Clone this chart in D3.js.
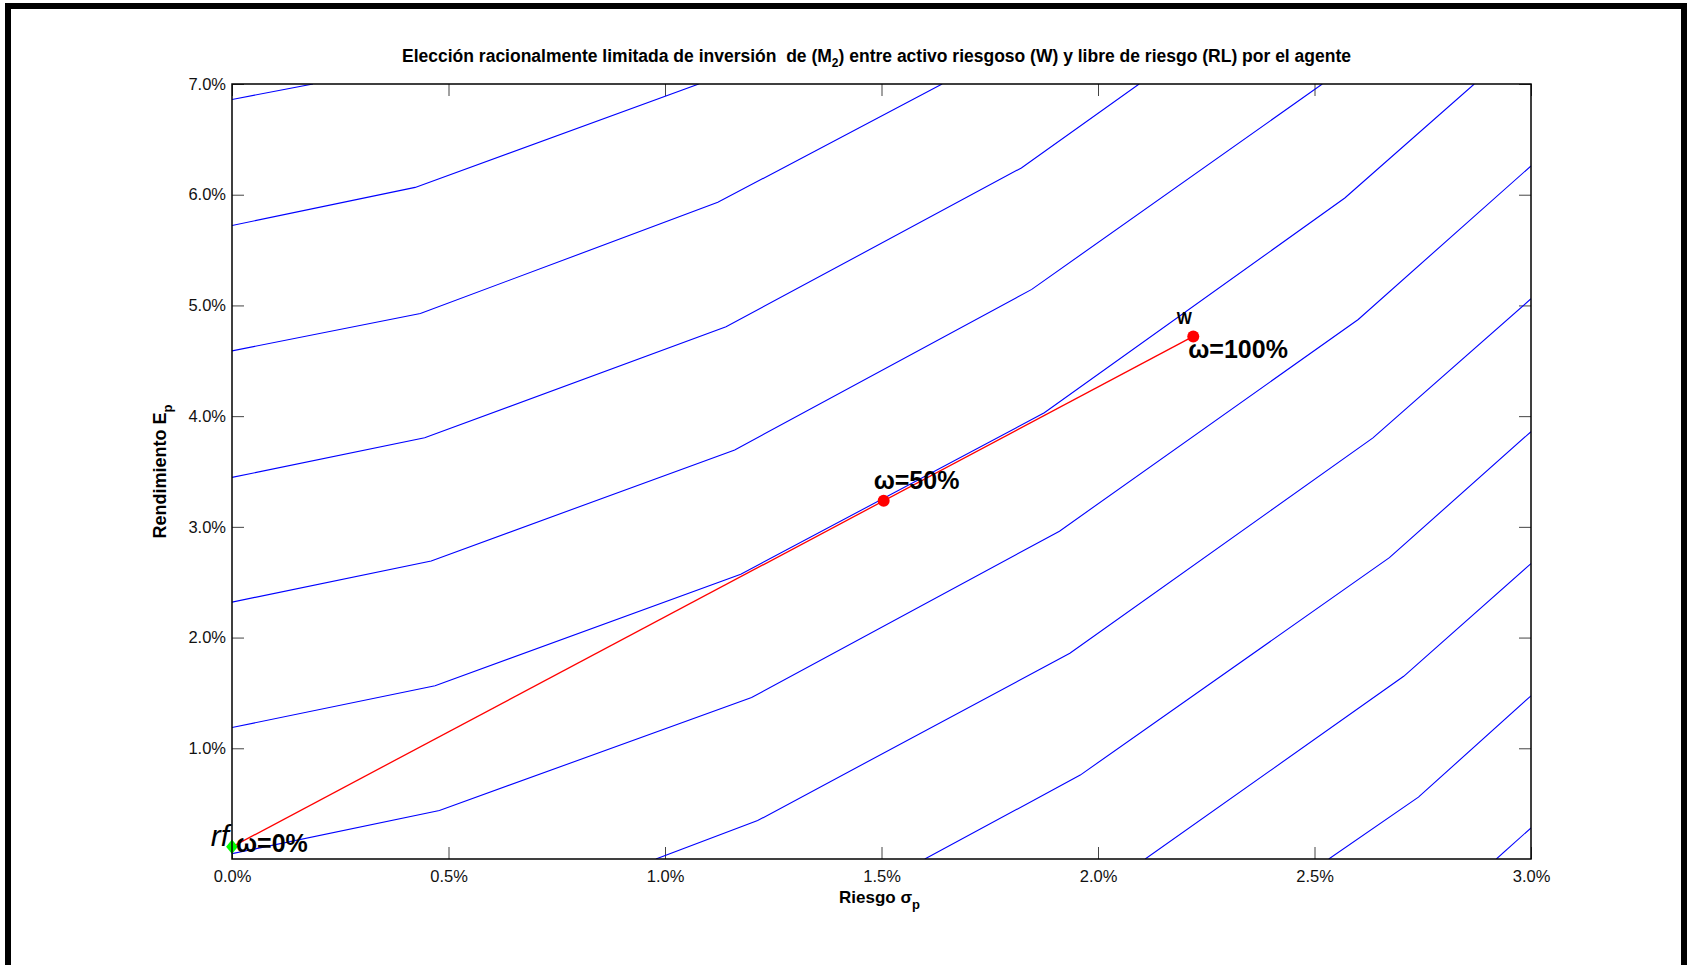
<!DOCTYPE html>
<html>
<head>
<meta charset="utf-8">
<script src="https://cdn.jsdelivr.net/npm/d3@7"></script>
<style>
  html, body { margin: 0; padding: 0; background: #fff; }
  svg { display: block; }
  text { font-family: "Liberation Sans", Arial, Helvetica, sans-serif; }
</style>
</head>
<body>
<script>
// Risk (sigma_p, %) and return (E_p, %) axis ticks
const xTicks = [0.0, 0.5, 1.0, 1.5, 2.0, 2.5, 3.0];
const yTicks = [1.0, 2.0, 3.0, 4.0, 5.0, 6.0, 7.0];

// Indifference curves (contours of the agent's utility), [sigma %, E %]
const curveA = [[0, 6.86], [0.187, 7.0]];
const curveB = [[0, 5.722], [0.423, 6.066], [1.078, 7.0]];
const curveC = [[0, 4.589], [0.435, 4.927], [1.122, 5.931], [1.64, 7.0]];
const curveD = [[0, 3.447], [0.445, 3.804], [1.141, 4.807], [1.823, 6.242], [2.095, 7.0]];
const curveE = [[0, 2.320], [0.46, 2.692], [1.161, 3.695], [1.847, 5.145], [2.518, 7.0]];
const curveF = [[0, 1.187], [0.469, 1.565], [1.175, 2.572], [1.876, 4.03], [2.570, 5.970], [2.869, 7.0]];
const curveG = [[0, 0.048], [0.479, 0.438], [1.2, 1.459], [1.911, 2.961], [2.601, 4.873], [3.0, 6.26]];
const curveH = [[0.979, 0], [1.214, 0.347], [1.935, 1.858], [2.635, 3.804], [3.0, 5.06]];
const curveI = [[1.60, 0], [1.959, 0.758], [2.673, 2.722], [3.0, 3.86]];
const curveJ = [[2.109, 0], [2.706, 1.650], [3.0, 2.668]];
const curveK = [[2.533, 0], [2.74, 0.559], [3.0, 1.474]];
const curveL = [[2.92, 0], [3.0, 0.281]];
const curves = [curveA, curveB, curveC, curveD, curveE, curveF, curveG, curveH, curveI, curveJ, curveK, curveL];

// Capital allocation between the risk-free asset (RL) and the risky asset (W)
const riskFree = [0, 0.11];
const riskyAsset = [2.22, 4.72];
const halfPortfolio = [1.505, 3.235];

const W = 1690, H = 965;
const margin = { left: 232, right: W - 1531, top: 84, bottom: H - 859 };
const pw = W - margin.left - margin.right;
const ph = H - margin.top - margin.bottom;

const svg = d3.select("body").append("svg").attr("width", W).attr("height", H);

// Figure frame
svg.append("rect")
  .attr("x", 8).attr("y", 6).attr("width", 1676).attr("height", 980)
  .attr("fill", "none").attr("stroke", "#000").attr("stroke-width", 6);

const x = d3.scaleLinear().domain([0, 3]).range([0, pw]);
const y = d3.scaleLinear().domain([0, 7]).range([ph, 0]);
const fmt = d => d.toFixed(1) + "%";

const g = svg.append("g").attr("transform", `translate(${margin.left},${margin.top})`);

g.append("clipPath").attr("id", "plotClip")
  .append("rect").attr("width", pw).attr("height", ph);

// Axes with inward ticks on all four sides
const tickLen = -12;
const styleAxis = sel => {
  sel.select(".domain").remove();
  sel.selectAll(".tick line").attr("stroke", "#444").attr("stroke-width", 1);
  sel.selectAll(".tick text").attr("fill", "#111").attr("font-size", "16.5px")
    .attr("font-family", "'Liberation Sans', Arial, sans-serif");
};
g.append("g").attr("transform", `translate(0,${ph})`)
  .call(d3.axisBottom(x).tickValues(xTicks).tickFormat(fmt).tickSize(tickLen).tickPadding(11))
  .call(styleAxis);
g.append("g")
  .call(d3.axisTop(x).tickValues(xTicks).tickFormat("").tickSize(tickLen))
  .call(styleAxis);
g.append("g")
  .call(d3.axisLeft(y).tickValues(yTicks).tickFormat(fmt).tickSize(tickLen).tickPadding(6))
  .call(styleAxis);
g.append("g").attr("transform", `translate(${pw},0)`)
  .call(d3.axisRight(y).tickValues(yTicks).tickFormat("").tickSize(tickLen))
  .call(styleAxis);

const plot = g.append("g").attr("clip-path", "url(#plotClip)");

const line = d3.line().x(d => x(d[0])).y(d => y(d[1]));

plot.selectAll("path.curve").data(curves).join("path")
  .attr("class", "curve")
  .attr("d", line)
  .attr("fill", "none")
  .attr("stroke", "#0000ff")
  .attr("stroke-width", 1.1);

// Capital allocation line from RL to W
g.append("path")
  .attr("d", line([riskFree, riskyAsset]))
  .attr("fill", "none").attr("stroke", "#ff0000").attr("stroke-width", 1.3);

g.selectAll("circle.port").data([halfPortfolio, riskyAsset]).join("circle")
  .attr("class", "port")
  .attr("cx", d => x(d[0])).attr("cy", d => y(d[1])).attr("r", 6)
  .attr("fill", "#ff0000");

// Risk-free asset marker (diamond)
g.append("path")
  .attr("d", d3.symbol(d3.symbolDiamond2, 110)())
  .attr("transform", `translate(${x(riskFree[0])},${y(riskFree[1])}) scale(0.9,1.1)`)
  .attr("fill", "#00ff00");

// Point labels
g.append("text")
  .attr("x", x(riskFree[0]) - 3).attr("y", y(riskFree[1]) - 1)
  .attr("text-anchor", "end")
  .attr("font-family", "'Liberation Serif', 'Times New Roman', serif")
  .attr("font-style", "italic").attr("font-size", "30px").attr("fill", "#000")
  .text("rf");

const wlabel = (pt, txt, dx, dy) => g.append("text")
  .attr("x", x(pt[0]) + dx).attr("y", y(pt[1]) + dy)
  .attr("font-weight", "bold").attr("font-size", "25px").attr("fill", "#000")
  .text(txt);
wlabel(riskFree, "ω=0%", 4, 5);
wlabel(halfPortfolio, "ω=50%", -10, -12);
wlabel(riskyAsset, "ω=100%", -5, 22);

g.append("text")
  .attr("x", x(riskyAsset[0]) - 9).attr("y", y(riskyAsset[1]) - 12)
  .attr("text-anchor", "middle")
  .attr("font-weight", "bold").attr("font-size", "16px").attr("fill", "#000")
  .text("W");

// Plot box
g.append("rect").attr("width", pw).attr("height", ph)
  .attr("fill", "none").attr("stroke", "#000").attr("stroke-width", 1.5);

// Title
const title = svg.append("text")
  .attr("x", margin.left + pw / 2 - 5).attr("y", 62)
  .attr("text-anchor", "middle")
  .attr("font-weight", "bold").attr("font-size", "17.5px").attr("fill", "#000");
title.append("tspan").text("Elección racionalmente limitada de inversión\u00a0 de (M");
title.append("tspan").attr("font-size", "12px").attr("dy", 5).text("2");
title.append("tspan").attr("dy", -5).text(") entre activo riesgoso (W) y libre de riesgo (RL) por el agente");

// X axis label
const xl = svg.append("text")
  .attr("x", margin.left + pw / 2 - 2).attr("y", 903)
  .attr("text-anchor", "middle")
  .attr("font-weight", "bold").attr("font-size", "17px").attr("fill", "#000");
xl.append("tspan").text("Riesgo σ");
xl.append("tspan").attr("font-size", "13px").attr("dy", 6).text("p");

// Y axis label
const yl = svg.append("text")
  .attr("transform", `translate(166,${margin.top + ph / 2}) rotate(-90)`)
  .attr("text-anchor", "middle")
  .attr("font-weight", "bold").attr("font-size", "18px").attr("fill", "#000");
yl.append("tspan").text("Rendimiento E");
yl.append("tspan").attr("font-size", "13px").attr("dy", 6).text("p");
</script>
</body>
</html>
